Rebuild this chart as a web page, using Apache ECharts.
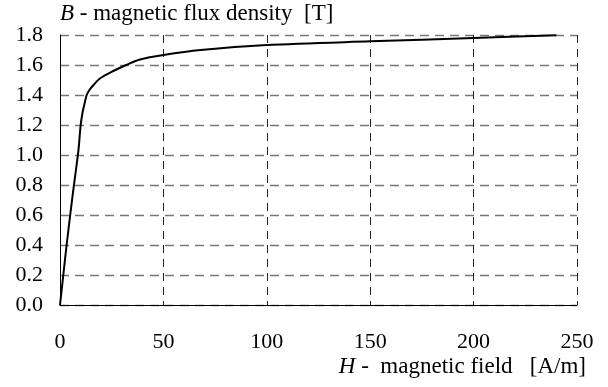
<!DOCTYPE html>
<html>
<head>
<meta charset="utf-8">
<script src="https://cdn.jsdelivr.net/npm/echarts@6/dist/echarts.min.js"></script>
<style>
  html, body { margin: 0; padding: 0; background: #fff; }
  #chart { width: 608px; height: 387px; }
</style>
</head>
<body>
<div id="chart"></div>
<script>
// H [A/m] vs B [T]
const fieldH = [0, 1.6, 3.2, 6, 8.9, 10, 11, 12, 12.9, 14.3, 16.1, 19.3, 25.8, 32, 38.7, 50, 68, 100, 150, 200, 240];
const fluxB = [0, 0.2, 0.4, 0.72, 1.03, 1.2, 1.29, 1.35, 1.4, 1.435, 1.465, 1.51, 1.56, 1.6, 1.637, 1.667, 1.70, 1.733, 1.758, 1.78, 1.798];

const xTicks = [0, 50, 100, 150, 200, 250];
const yTicks = [0, 0.2, 0.4, 0.6, 0.8, 1.0, 1.2, 1.4, 1.6, 1.8];

const font = "Liberation Serif";

const chart = echarts.init(document.getElementById("chart"));

chart.setOption({
  animation: false,
  grid: { left: 60, right: 31, top: 35, bottom: 82 },
  xAxis: {
    type: "value",
    min: xTicks[0],
    max: xTicks[xTicks.length - 1],
    interval: 50,
    name: "{i|H} -  magnetic field   [A/m]",
    nameLocation: "end",
    nameGap: 9,
    nameTextStyle: {
      align: "right",
      verticalAlign: "top",
      padding: [50, 0, 0, 0],
      fontFamily: font,
      fontSize: 23,
      color: "#000",
      rich: { i: { fontFamily: font, fontSize: 23, fontStyle: "italic", color: "#000" } },
    },
    axisLine: { lineStyle: { color: "#000", width: 1 } },
    axisTick: { show: false },
    axisLabel: { margin: 26, fontFamily: font, fontSize: 22, color: "#000" },
    splitLine: { show: true, lineStyle: { color: "#222", type: [8, 6], width: 1 } },
  },
  yAxis: {
    type: "value",
    min: yTicks[0],
    max: yTicks[yTicks.length - 1],
    interval: 0.2,
    name: "{i|B} - magnetic flux density  [T]",
    nameLocation: "end",
    nameGap: 21,
    nameTextStyle: {
      align: "left",
      verticalAlign: "middle",
      fontFamily: font,
      fontSize: 23,
      color: "#000",
      rich: { i: { fontFamily: font, fontSize: 23, fontStyle: "italic", color: "#000" } },
    },
    axisLine: { show: true, lineStyle: { color: "#000", width: 1 } },
    axisTick: { show: false },
    axisLabel: {
      margin: 17,
      fontFamily: font,
      fontSize: 22,
      color: "#000",
      formatter: (v) => v.toFixed(1),
    },
    splitLine: { show: true, lineStyle: { color: "#777", type: [9, 6], width: 1.3 } },
  },
  series: [
    {
      type: "line",
      data: fieldH.map((h, i) => [h, fluxB[i]]),
      smooth: 0.3,
      symbol: "none",
      lineStyle: { color: "#000", width: 2 },
    },
  ],
});
</script>
</body>
</html>
